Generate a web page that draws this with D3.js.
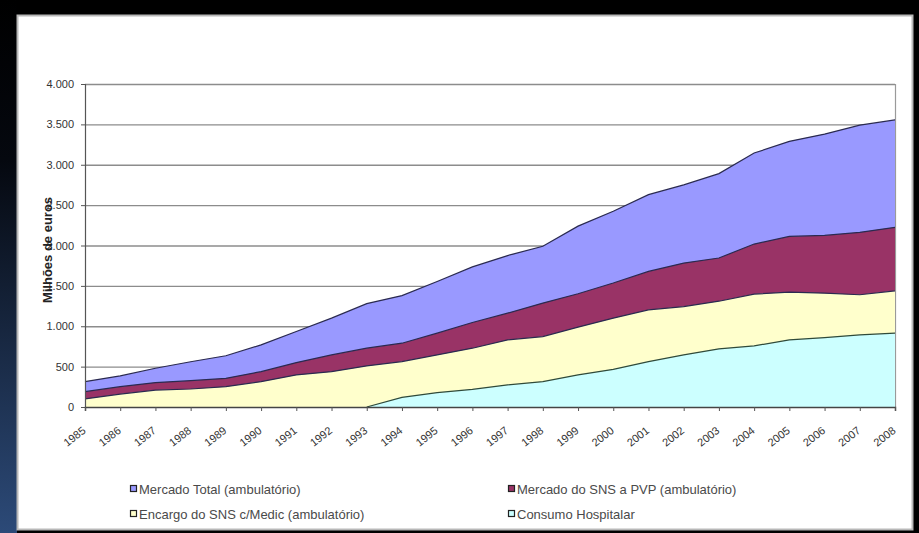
<!DOCTYPE html>
<html><head><meta charset="utf-8">
<script src="https://cdn.jsdelivr.net/npm/d3@7"></script>
<style>html,body{margin:0;padding:0;background:#000;}svg{display:block;}</style>
</head><body>
<script>
const years = [1985,1986,1987,1988,1989,1990,1991,1992,1993,1994,1995,1996,1997,1998,1999,2000,2001,2002,2003,2004,2005,2006,2007,2008];
const mercadoTotal = [315,385,480,560,635,770,935,1100,1280,1380,1555,1735,1875,1990,2240,2425,2630,2750,2890,3145,3290,3380,3490,3555];
const mercadoSNS = [190,252,302,326,355,438,550,645,728,790,914,1046,1162,1287,1402,1535,1679,1782,1845,2018,2113,2125,2163,2225];
const encargoSNS = [100,160,210,223,252,314,397,438,509,562,645,728,831,872,989,1100,1203,1244,1310,1398,1423,1410,1390,1439];
const consumoHosp = [null,null,null,null,null,null,null,null,0,120,177,219,273,314,397,467,562,645,720,757,831,860,893,914];
const yTicks = [0,500,1000,1500,2000,2500,3000,3500,4000];
const seriesNames = ["Mercado Total (ambulatório)","Mercado do SNS a PVP (ambulatório)","Encargo do SNS c/Medic (ambulatório)","Consumo Hospitalar"];
const seriesColors = ["#9999FF","#993366","#FFFFCC","#CCFFFF"];
const yTitle = "Milhões de euros";

(function(){
const W = 919, H = 533;
const FONT = "Liberation Sans, Arial, sans-serif";
const svg = d3.select("body").append("svg").attr("width", W).attr("height", H);
const defs = svg.append("defs");
const g1 = defs.append("linearGradient").attr("id","bgL").attr("x1",0).attr("y1",0).attr("x2",0).attr("y2",1);
g1.append("stop").attr("offset","0").attr("stop-color","#000");
g1.append("stop").attr("offset","0.3").attr("stop-color","#05080f");
g1.append("stop").attr("offset","1").attr("stop-color","#2c4a78");
svg.append("rect").attr("width",W).attr("height",H).attr("fill","#000");
svg.append("rect").attr("x",0).attr("y",0).attr("width",17).attr("height",H).attr("fill","url(#bgL)");
svg.append("rect").attr("x",17.5).attr("y",15.5).attr("width",895).attr("height",514)
  .attr("fill","#fff").attr("stroke","#b8b8b8").attr("stroke-width",2);

const pL = 85, pR = 895, pT = 84, pB = 407;
const x = d3.scalePoint().domain(years).range([pL, pR]);
const y = d3.scaleLinear().domain([0,4000]).range([pB, pT]);
const fmt = v => d3.format(",")(v).replace(/,/g, ".");

svg.append("g").selectAll("line").data(yTicks.filter(d=>d>0)).join("line")
  .attr("x1",pL).attr("x2",pR).attr("y1",d=>y(d)+0.5).attr("y2",d=>y(d)+0.5)
  .attr("stroke","#8c8c8c").attr("stroke-width",1.3);
svg.append("line").attr("x1",pR+0.5).attr("x2",pR+0.5).attr("y1",pT).attr("y2",pB)
  .attr("stroke","#9a9a9a").attr("stroke-width",1.2);

const data = [mercadoTotal, mercadoSNS, encargoSNS, consumoHosp];
data.forEach((vals, i) => {
  const pts = years.map((yr, j) => ({yr, v: vals[j]})).filter(d => d.v !== null);
  const area = d3.area().x(d => x(d.yr)).y0(y(0)).y1(d => y(d.v));
  const line = d3.line().x(d => x(d.yr)).y(d => y(d.v));
  svg.append("path").datum(pts).attr("d", area).attr("fill", seriesColors[i]);
  svg.append("path").datum(pts).attr("d", line).attr("fill","none")
    .attr("stroke", i===3 ? "#2f4a3a" : "#2a2a50").attr("stroke-width",1.2);
});

const yAxis = d3.axisLeft(y).tickValues(yTicks).tickFormat(fmt).tickSize(4).tickPadding(7);
const ya = svg.append("g").attr("transform",`translate(${pL},0)`).call(yAxis);
ya.select(".domain").attr("stroke","#555").attr("stroke-width",1.2);
ya.selectAll(".tick line").attr("stroke","#555");
ya.selectAll("text").attr("font-family",FONT).attr("font-size","11px").attr("fill","#333");

const xAxis = d3.axisBottom(x).tickSize(4).tickFormat(d => String(d));
const xa = svg.append("g").attr("transform",`translate(0,${pB})`).call(xAxis);
xa.select(".domain").attr("stroke","#444").attr("stroke-width",1.5);
xa.selectAll(".tick line").attr("stroke","#555");
xa.selectAll("text").attr("font-family",FONT).attr("font-size","11px").attr("fill","#333")
  .attr("text-anchor","end").attr("dy",0).attr("y",0)
  .attr("transform","translate(1,25) rotate(-38)");

svg.append("text").attr("transform",`translate(52,250) rotate(-90)`).attr("text-anchor","middle")
  .attr("font-family",FONT).attr("font-size","13px").attr("font-weight","bold")
  .attr("fill","#222").text(yTitle);

const legPos = [[130,489],[508,489],[130,514],[508,514]];
seriesNames.forEach((name, i) => {
  const [lx, ly] = legPos[i];
  svg.append("rect").attr("x",lx+0.5).attr("y",ly-3.5).attr("width",6).attr("height",6)
    .attr("fill",seriesColors[i]).attr("stroke","#222").attr("stroke-width",1.2);
  svg.append("text").attr("x",lx+9).attr("y",ly+4.5)
    .attr("font-family",FONT).attr("font-size","13px").attr("fill","#4a4a4a")
    .text(name);
});
})();
</script>
</body></html>
